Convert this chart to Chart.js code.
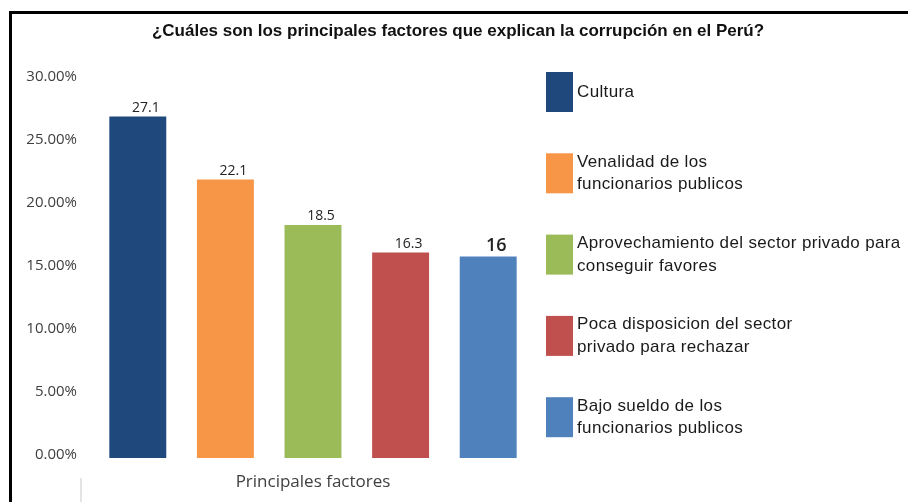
<!DOCTYPE html>
<html>
<head>
<meta charset="utf-8">
<script src="https://cdn.jsdelivr.net/npm/chart.js@4.4.1/dist/chart.umd.min.js"></script>
<style>
    html, body { margin: 0; padding: 0; background: #fff; }
    #wrap { position: relative; width: 908px; height: 502px; }
</style>
</head>
<body>
<div id="wrap"><canvas id="factoresChart" width="908" height="502"></canvas></div>
<script>
const chartTitle = '¿Cuáles son los principales factores que explican la corrupción en el Perú?';
const categories = ['Principales factores'];
const seriesLabels = [
    ['Cultura'],
    ['Venalidad de los', 'funcionarios publicos'],
    ['Aprovechamiento del sector privado para', 'conseguir favores'],
    ['Poca disposicion del sector', 'privado para rechazar'],
    ['Bajo sueldo de los', 'funcionarios publicos']
];
const seriesValues = [27.1, 22.1, 18.5, 16.3, 16];
const valueLabels = ['27.1', '22.1', '18.5', '16.3', '16'];
const seriesColors = ['#1F497D', '#F79646', '#9BBB59', '#C0504D', '#4F81BD'];
const yTicks = [0, 5, 10, 15, 20, 25, 30];

document.addEventListener('DOMContentLoaded', function () {
    const ctx = document.getElementById('factoresChart');

    // frame, title and faint line from the original screenshot
    const framePlugin = {
        id: 'frame',
        beforeDraw: function (chart) {
            const c = chart.ctx;
            c.save();
            c.fillStyle = '#fff';
            c.fillRect(0, 0, chart.width, chart.height);
            c.fillStyle = '#000';
            c.fillRect(9, 11, chart.width - 9, 3);
            c.fillRect(9, 11, 3, chart.height - 11);
            c.fillStyle = '#e4e4e4';
            c.fillRect(80, 478, 2, 24);
            c.font = 'bold 17px "Liberation Sans", Arial, sans-serif';
            c.fillStyle = '#111';
            c.textAlign = 'center';
            c.textBaseline = 'middle';
            c.fillText(chartTitle, 458, 31);
            c.restore();
        }
    };

    // value labels above each bar
    const valuePlugin = {
        id: 'values',
        afterDatasetsDraw: function (chart) {
            const c = chart.ctx;
            c.save();
            c.textAlign = 'center';
            c.textBaseline = 'bottom';
            chart.data.datasets.forEach(function (ds, i) {
                const bar = chart.getDatasetMeta(i).data[0];
                const last = i === chart.data.datasets.length - 1;
                c.font = last ? '600 18px "Open Sans", sans-serif' : '14px "Open Sans", sans-serif';
                c.fillStyle = '#222';
                c.fillText(valueLabels[i], bar.x + 8, bar.y - 2);
            });
            c.restore();
        }
    };

    // legend on the right, multi-line labels
    const legendPlugin = {
        id: 'sideLegend',
        afterDraw: function (chart) {
            const c = chart.ctx;
            c.save();
            c.font = '17px "Liberation Sans", Arial, sans-serif';
            c.letterSpacing = '0.35px';
            c.textAlign = 'left';
            c.textBaseline = 'middle';
            chart.data.datasets.forEach(function (ds, i) {
                const top = 72 + i * 81.3;
                c.fillStyle = ds.backgroundColor;
                c.fillRect(546, top, 27, 40);
                c.fillStyle = '#1a1a1a';
                const lines = seriesLabels[i];
                const mid = top + 20;
                lines.forEach(function (line, j) {
                    const y = mid + (j - (lines.length - 1) / 2) * 22.5;
                    c.fillText(line, 577, y);
                });
            });
            c.restore();
        }
    };

    new Chart(ctx, {
        type: 'bar',
        data: {
            labels: categories,
            datasets: seriesLabels.map(function (lines, i) {
                return {
                    label: lines.join(' '),
                    data: [seriesValues[i]],
                    backgroundColor: seriesColors[i],
                    borderWidth: 0,
                    categoryPercentage: 1,
                    barPercentage: 0.65
                };
            })
        },
        options: {
            responsive: false,
            animation: false,
            layout: {
                padding: { left: 0, right: 376, top: 80, bottom: 0 }
            },
            scales: {
                x: {
                    grid: { display: false, drawTicks: false },
                    border: { display: false },
                    ticks: {
                        color: '#404040',
                        font: { family: '"Open Sans", sans-serif', size: 17 },
                        padding: 14
                    },
                    afterFit: function (scale) { scale.height = 44; }
                },
                y: {
                    min: 0,
                    max: 30,
                    afterBuildTicks: function (scale) {
                        scale.ticks = yTicks.map(function (v) { return { value: v }; });
                    },
                    grid: { display: false, drawTicks: false },
                    border: { display: false },
                    ticks: {
                        color: '#404040',
                        font: { family: '"Open Sans", sans-serif', size: 15 },
                        padding: 17,
                        labelOffset: -3,
                        callback: function (value) {
                            return value.toFixed(2) + '%';
                        }
                    },
                    afterFit: function (scale) { scale.width = 94; }
                }
            },
            plugins: {
                legend: { display: false },
                title: { display: false },
                tooltip: { enabled: false }
            }
        },
        plugins: [framePlugin, valuePlugin, legendPlugin]
    });
});
</script>
</body>
</html>
